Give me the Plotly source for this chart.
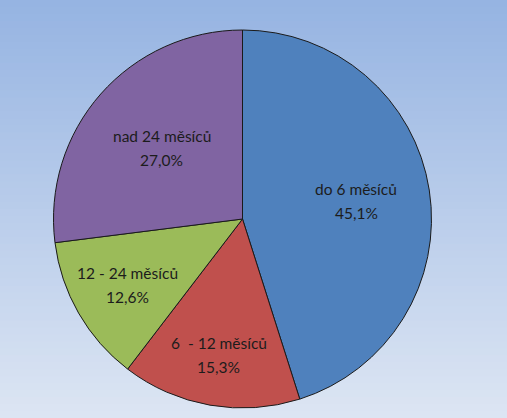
import math
import plotly.graph_objects as go

categories = ["do 6 měsíců", "6  - 12 měsíců", "12 - 24 měsíců", "nad 24 měsíců"]
values = [45.1, 15.3, 12.6, 27.0]
pct_labels = ["45,1%", "15,3%", "12,6%", "27,0%"]
colors = ["#4F81BD", "#C0504D", "#9BBB59", "#8064A2"]

W, H = 507, 418
# pie placement (pixels)
CX, CY, R = 242.5, 219.0, 189.0
# label distance from centre as fraction of radius (style, per slice)
label_r = [0.61, 0.73, 0.70, 0.57]

fig = go.Figure()
fig.add_trace(go.Pie(
    labels=categories,
    values=values,
    textinfo="none",
    sort=False,
    direction="clockwise",
    rotation=0,
    marker=dict(colors=colors, line=dict(color="#1a1a1a", width=1)),
    domain=dict(x=[(CX - R) / W, (CX + R) / W], y=[(H - CY - R) / H, (H - CY + R) / H]),
    showlegend=False,
    hoverinfo="label+percent",
))

# slice labels at mid-angles computed from the values
total = sum(values)
annotations = []
cum = 0.0
font = dict(family="Lato, Open Sans, sans-serif", size=15.5, color="#1c1c1c")
for cat, val, pct, rf in zip(categories, values, pct_labels, label_r):
    mid = (cum + val / 2) / total * 2 * math.pi
    cum += val
    px = CX + rf * R * math.sin(mid)
    py = CY - rf * R * math.cos(mid)
    xp = px / W
    yp = 1 - py / H
    annotations.append(dict(text=cat, x=xp, y=yp, xref="paper", yref="paper",
                            showarrow=False, yshift=12, font=font,
                            xanchor="center", yanchor="middle"))
    annotations.append(dict(text=pct, x=xp, y=yp, xref="paper", yref="paper",
                            showarrow=False, yshift=-12, font=font,
                            xanchor="center", yanchor="middle"))

# vertical gradient background
top = (150, 180, 226)
bot = (220, 229, 243)
n = 60
shapes = []
for i in range(n):
    t = i / (n - 1)
    c = tuple(round(top[k] + (bot[k] - top[k]) * t) for k in range(3))
    shapes.append(dict(
        type="rect", xref="paper", yref="paper",
        x0=0, x1=1, y0=1 - (i + 1) / n - 0.002, y1=1 - i / n,
        fillcolor=f"rgb{c}", line=dict(width=0), layer="below",
    ))

fig.update_layout(
    width=W, height=H,
    margin=dict(l=0, r=0, t=0, b=0),
    paper_bgcolor="rgb(186,205,235)",
    plot_bgcolor="rgba(0,0,0,0)",
    shapes=shapes,
    annotations=annotations,
)

fig.write_html("out.html", config={"displayModeBar": False},
               post_script="document.body.style.margin='0';document.body.style.overflow='hidden';")
